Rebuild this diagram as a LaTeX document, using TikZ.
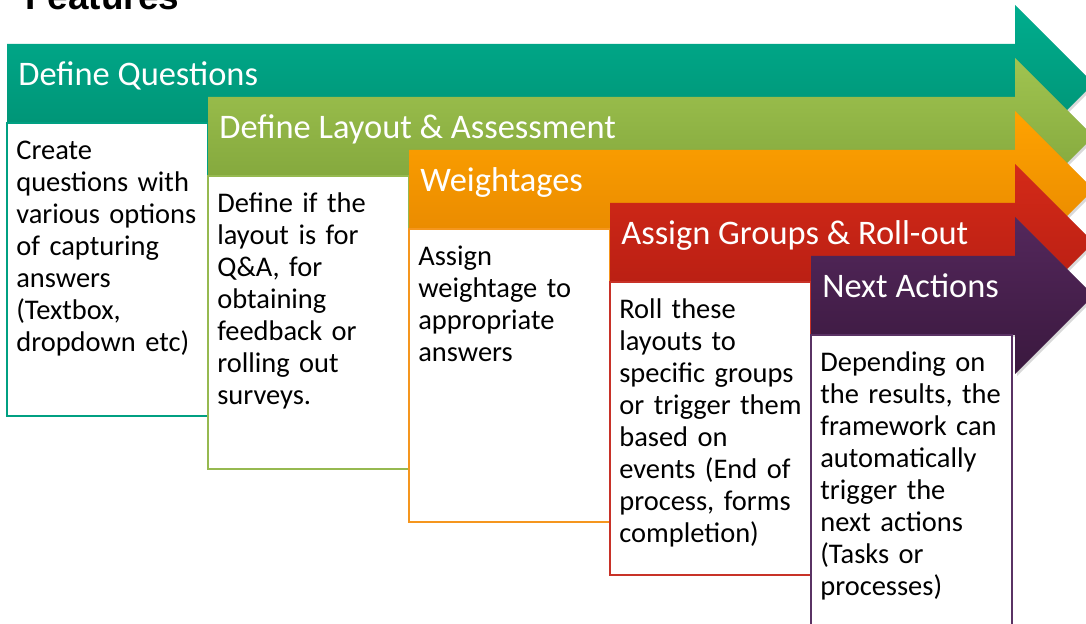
\documentclass[tikz,border=0pt]{standalone}
\usepackage{fontspec}
\setmainfont{Carlito}
\newfontfamily\titlefont{Liberation Sans}
\usetikzlibrary{shadows}
\definecolor{tealtop}{RGB}{0,173,142}
\definecolor{tealbot}{RGB}{0,142,112}
\definecolor{tealline}{RGB}{0,160,130}
\definecolor{greentop}{RGB}{160,196,80}
\definecolor{greenbot}{RGB}{124,160,56}
\definecolor{greenline}{RGB}{150,185,80}
\definecolor{orangetop}{RGB}{255,163,0}
\definecolor{orangebot}{RGB}{228,132,0}
\definecolor{orangeline}{RGB}{245,150,30}
\definecolor{redtop}{RGB}{212,42,24}
\definecolor{redbot}{RGB}{178,28,18}
\definecolor{redline}{RGB}{200,50,40}
\definecolor{purpletop}{RGB}{84,40,92}
\definecolor{purplebot}{RGB}{58,24,62}
\definecolor{purpleline}{RGB}{90,50,100}

\begin{document}
\begin{tikzpicture}[x=0.02cm, y=-0.02cm,
  stepshade/.style={drop shadow={opacity=0.3, shadow xshift=0.04cm, shadow yshift=-0.04cm}},
  stepbox/.style={fill=white, line width=0.8pt},
  stephead/.style={anchor=base west, inner sep=0pt, text=white, font=\fontsize{19.6}{23}\selectfont},
  steptext/.style={anchor=base west, inner sep=0pt, align=left, text width=3.9cm, font=\fontsize{16.2}{18.14}\selectfont}]

\useasboundingbox (0,0) rectangle (1086,624);
\clip (0,0) rectangle (1086,624);
% title
\node [anchor=base west, inner sep=0pt, font=\titlefont\bfseries\fontsize{21}{25}\selectfont] (title) at (25,10) {Features};
%
% define questions
\shade [stepshade, top color=tealtop, bottom color=tealbot] (7,44) -- (1015,44) -- (1015,5) -- (1093.5,83.5) -- (1015,162) -- (1015,123) -- (7,123) -- cycle;
\draw [stepbox, draw=tealline] (7,123) rectangle (208,416);
\node [stephead] (questions) at (18,86) {Define Questions};
\node [steptext] (questions-text) at (16,160) {Create\\questions with\\various options\\of capturing\\answers\\(Textbox,\\dropdown etc)};
%
% define layout
\shade [stepshade, top color=greentop, bottom color=greenbot] (208,97) -- (1015,97) -- (1015,58) -- (1093.5,136.5) -- (1015,215) -- (1015,176) -- (208,176) -- cycle;
\draw [stepbox, draw=greenline] (208,176) rectangle (409,469);
\node [stephead] (layout) at (219,139) {Define Layout \& Assessment};
\node [steptext] (layout-text) at (217,213) {Define if the\\layout is for\\Q\&A, for\\obtaining\\feedback or\\rolling out\\surveys.};
%
% weightages
\shade [stepshade, top color=orangetop, bottom color=orangebot] (409,150) -- (1015,150) -- (1015,111) -- (1093.5,189.5) -- (1015,268) -- (1015,229) -- (409,229) -- cycle;
\draw [stepbox, draw=orangeline] (409,229) rectangle (610,522);
\node [stephead] (weights) at (420,192) {Weightages};
\node [steptext] (weights-text) at (418,266) {Assign\\weightage to\\appropriate\\answers};
%
% groups and roll-out
\shade [stepshade, top color=redtop, bottom color=redbot] (610,203) -- (1015,203) -- (1015,164) -- (1093.5,242.5) -- (1015,321) -- (1015,282) -- (610,282) -- cycle;
\draw [stepbox, draw=redline] (610,282) rectangle (811,575);
\node [stephead] (rollout) at (621,245) {Assign Groups \& Roll-out};
\node [steptext] (rollout-text) at (619,319) {Roll these\\layouts to\\specific groups\\or trigger them\\based on\\events (End of\\process, forms\\completion)};
%
% next actions
\shade [stepshade, top color=purpletop, bottom color=purplebot] (811,256) -- (1015,256) -- (1015,217) -- (1093.5,295.5) -- (1015,374) -- (1015,335) -- (811,335) -- cycle;
\draw [stepbox, draw=purpleline] (811,335) rectangle (1012,630);
\node [stephead] (actions) at (822,298) {Next Actions};
\node [steptext] (actions-text) at (820,372) {Depending on\\the results, the\\framework can\\automatically\\trigger the\\next actions\\(Tasks or\\processes)};

\end{tikzpicture}
\end{document}
